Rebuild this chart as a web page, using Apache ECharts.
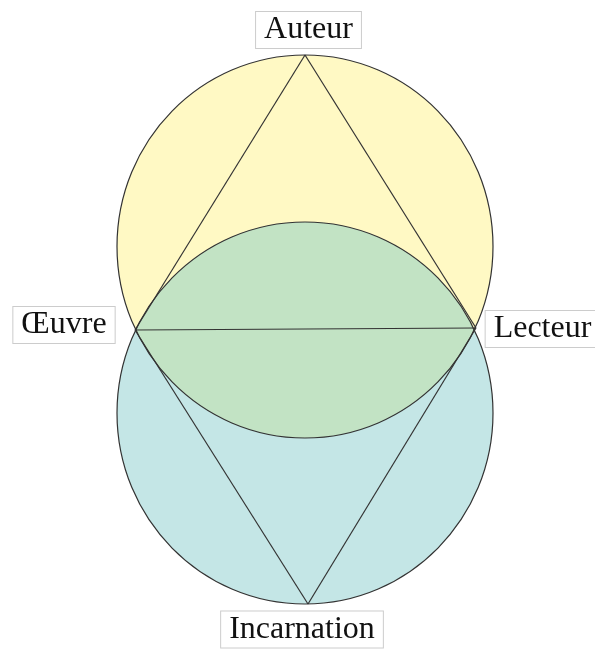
<!DOCTYPE html>
<html>
<head>
<meta charset="utf-8">
<script src="https://cdn.jsdelivr.net/npm/echarts@6/dist/echarts.min.js"></script>
<style>
  html, body { margin: 0; padding: 0; background: #fff; }
  #main { width: 595px; height: 649px; }
</style>
</head>
<body>
<div id="main"></div>
<script>
// the two circles: centre and radii (x, y), in page-like units
var circleCx = [305, 305];
var circleCy = [246.5, 413];
var circleRx = [188, 188];
var circleRy = [191.5, 191];

// the four corners of the two triangles
var vertexNames = ['Auteur', 'Œuvre', 'Lecteur', 'Incarnation'];
var vertexX = [305, 135, 476, 308];
var vertexY = [55, 330, 328, 604];
var edges = [[0, 1], [1, 2], [2, 0], [1, 3], [3, 2]];

var fillColors = ['#fff9c4', '#c4e6e6'];
var lensColor = '#c2e3c4';
var lineColor = '#333';
// where each label box sits relative to its corner
var labelOffset = [[3.5, -25], [-71, -5], [66.5, 1], [-6, 25.5]];

var circleData = circleCx.map(function (cx, i) {
  return [cx, circleCy[i], circleRx[i], circleRy[i]];
});
var edgeData = edges.map(function (e) {
  return [vertexX[e[0]], vertexY[e[0]], vertexX[e[1]], vertexY[e[1]]];
});
var vertexData = vertexNames.map(function (n, i) {
  return [vertexX[i], vertexY[i], i];
});

function circlePx(api, i) {
  var c = api.coord([circleCx[i], circleCy[i]]);
  var o = api.coord([circleCx[i] + circleRx[i], circleCy[i] + circleRy[i]]);
  return { cx: c[0], cy: c[1], rx: Math.abs(o[0] - c[0]), ry: Math.abs(o[1] - c[1]) };
}

var myChart = echarts.init(document.getElementById('main'));
var option = {
  backgroundColor: '#fff',
  animation: false,
  grid: { left: 0, right: 0, top: 0, bottom: 0 },
  xAxis: { type: 'value', min: 0, max: 595, show: false },
  yAxis: { type: 'value', min: 0, max: 649, inverse: true, show: false },
  series: [
    {
      // filled circles
      type: 'custom',
      z: 1,
      data: circleData,
      renderItem: function (params, api) {
        var p = circlePx(api, params.dataIndex);
        return {
          type: 'ellipse',
          shape: p,
          style: { fill: fillColors[params.dataIndex], stroke: null }
        };
      }
    },
    {
      // overlap of the two circles
      type: 'custom',
      z: 2,
      data: [[circleCx[0], circleCy[0]]],
      renderItem: function (params, api) {
        var a = circlePx(api, 0);
        var b = circlePx(api, 1);
        var y = (a.cy * b.ry + b.cy * a.ry) / (a.ry + b.ry);
        var t = (y - a.cy) / a.ry;
        var dx = a.rx * Math.sqrt(1 - t * t);
        var x1 = a.cx - dx, x2 = a.cx + dx;
        var d = 'M' + x1 + ' ' + y +
          ' A' + b.rx + ' ' + b.ry + ' 0 0 1 ' + x2 + ' ' + y +
          ' A' + a.rx + ' ' + a.ry + ' 0 0 1 ' + x1 + ' ' + y + ' Z';
        return {
          type: 'path',
          shape: { pathData: d },
          style: { fill: lensColor, stroke: null }
        };
      }
    },
    {
      // circle outlines
      type: 'custom',
      z: 3,
      data: circleData,
      renderItem: function (params, api) {
        var p = circlePx(api, params.dataIndex);
        return {
          type: 'ellipse',
          shape: p,
          style: { fill: null, stroke: lineColor, lineWidth: 1.2 }
        };
      }
    },
    {
      // triangle edges
      type: 'custom',
      z: 4,
      data: edgeData,
      renderItem: function (params, api) {
        var p1 = api.coord([api.value(0), api.value(1)]);
        var p2 = api.coord([api.value(2), api.value(3)]);
        return {
          type: 'line',
          shape: { x1: p1[0], y1: p1[1], x2: p2[0], y2: p2[1] },
          style: { stroke: lineColor, lineWidth: 1.2 }
        };
      }
    },
    {
      // labels
      type: 'custom',
      z: 5,
      data: vertexData,
      renderItem: function (params, api) {
        var i = params.dataIndex;
        var p = api.coord([api.value(0), api.value(1)]);
        return {
          type: 'text',
          x: p[0] + labelOffset[i][0],
          y: p[1] + labelOffset[i][1],
          style: {
            text: vertexNames[i],
            font: '32px "Liberation Serif"',
            fill: '#111',
            align: 'center',
            verticalAlign: 'middle',
            lineHeight: 30,
            padding: [3, 8, 3, 8],
            backgroundColor: '#fff',
            borderColor: '#cccccc',
            borderWidth: 1
          }
        };
      }
    }
  ]
};
myChart.setOption(option);
</script>
</body>
</html>
